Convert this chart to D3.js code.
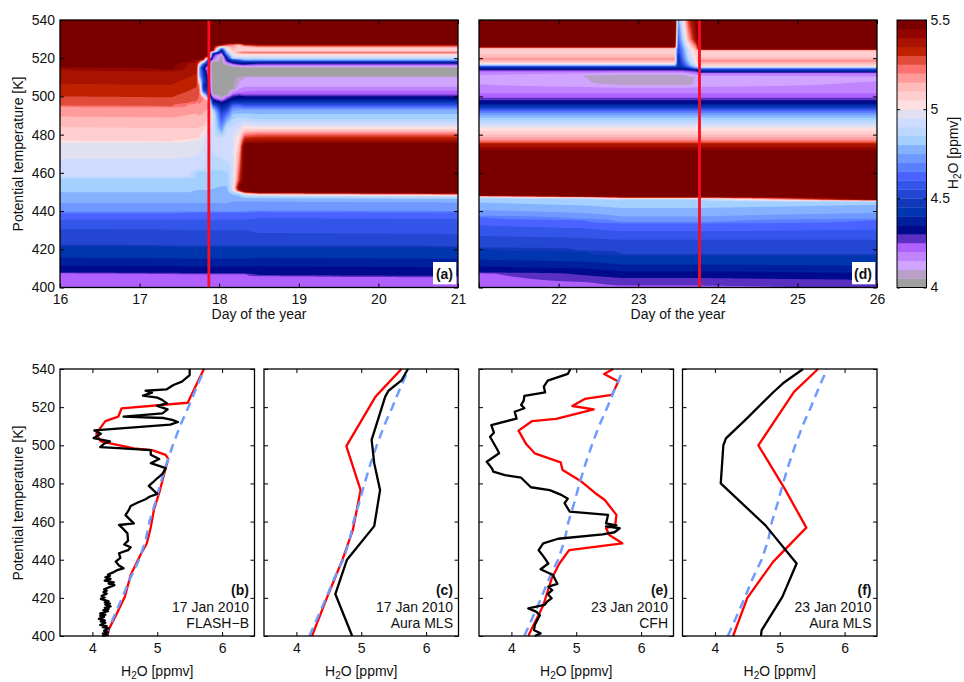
<!DOCTYPE html>
<html>
<head>
<meta charset="utf-8">
<script src="https://d3js.org/d3.v7.min.js"></script>
<style>
body { margin: 0; background: #fff; }
svg { display: block; }
text { font-family: "Liberation Sans", Arial, sans-serif; font-size: 14px; fill: #111; }
</style>
</head>
<body>
<svg width="964" height="682"></svg>
<script>
// colour levels, 4 to 5.5 ppmv in steps of 0.05
const levelColors = ['#a0a0a0','#b8a0c8','#d0a4ff','#c184ff','#b060ff','#5a30c0','#000a8c','#001f9f','#0035b0','#1038b8',
    '#2347d2','#3355ea','#4a62ff','#5a80ff','#7099ff','#85b2ff','#a4d0ff','#bcd8ff','#cfdcff','#e0e0f0',
    '#ffe0e0','#ffcfcf','#ffbaba','#ff9a9a','#ff7070','#e04b3a','#bf2000','#a81200','#940500','#7a0000'];
const levelBreaks = d3.range(30).map(i => 4 + i * 0.05);

// profiles of the model run [theta, h2o], panel (a)
const lowA = [[400,4.21],[407,4.24],[407.4,4.31],[411,4.35],[415,4.4],[421.3,4.45],[421.7,4.5],[430,4.55],[435.5,4.6],[439.3,4.65],[439.7,4.7]];
const a16 = [[400,4.21],[407.5,4.24],[407.9,4.31],[411.5,4.35],[415.5,4.4],[421.7,4.45],[422.1,4.5],[430.6,4.55],[435.5,4.6],[439.1,4.65],[439.5,4.7],[444.2,4.75],[449.8,4.8],[457.4,4.85],[457.8,4.9],[467.3,4.95],[476.2,5],[476.6,5.05],[484,5.1],[489.5,5.15],[494.8,5.2],[495.2,5.25],[500,5.3],[506.6,5.35],[514.6,5.4],[515,5.45],[540,5.7]];
const a174 = [[400,4.21],[407.2,4.24],[407.6,4.31],[411.2,4.35],[415.3,4.4],[421.5,4.45],[421.9,4.5],[430.3,4.55],[435.5,4.6],[439.1,4.65],[439.5,4.7],[444.2,4.75],[449.8,4.8],[457.4,4.85],[457.8,4.9],[467.3,4.95],[476,5],[476.4,5.05],[483.5,5.1],[489,5.15],[494.3,5.2],[494.7,5.25],[499.5,5.3],[506,5.35],[513.4,5.4],[513.8,5.45],[540,5.7]];
const a1762 = [...lowA,[444.2,4.75],[449.8,4.8],[457.4,4.85],[457.8,4.9],[468,4.95],[477,5],[477.4,5.05],[483.5,5.1],[490.5,5.15],[496,5.2],[496.4,5.25],[503,5.3],[510,5.35],[517.5,5.4],[518,5.45],[540,5.7]];
const a1772 = [...lowA,[444.2,4.75],[451,4.8],[461,4.85],[461.4,4.9],[469,4.95],[477.3,5],[477.7,5.05],[483.4,5.1],[491,5.15],[497,5.2],[497.4,5.25],[505,5.3],[512,5.35],[518.6,5.4],[519,5.45],[540,5.7]];
const a1775 = [...lowA,[444.2,4.75],[451,4.8],[461,4.85],[461.4,4.9],[470,4.95],[478,5],[478.4,5.05],[484,5.1],[490,5.15],[496,5.2],[499,5.24],[503,5.27],[506,5.2],[508,5],[511,4.78],[515,4.75],[516.5,4.95],[517.5,5.2],[519,5.42],[519.6,5.5],[540,5.7]];
const a178 = [...lowA,[444.2,4.75],[451,4.8],[461,4.85],[461.4,4.9],[470,4.93],[478,4.98],[484.5,5.1],[491,5.15],[496,5.18],[499,5.2],[500.5,5.05],[501.5,4.8],[503,4.55],[505,4.42],[508,4.55],[513,4.45],[515,4.35],[517,4.6],[518.3,5],[519.5,5.45],[540,5.7]];
const a1787 = [...lowA,[444.2,4.75],[451,4.8],[461.4,4.86],[470,4.88],[477,4.9],[482.5,4.96],[486,5.05],[491,5.1],[495,5.18],[497,5.18],[498,5.05],[499,4.85],[500,4.55],[502,4.42],[505,4.33],[512,4.18],[515,4.1],[517,4.28],[519,4.38],[520,4.8],[521,5.45],[540,5.7]];
const a1792 = [...lowA,[444.2,4.75],[451.5,4.8],[462,4.85],[470,4.9],[480,4.92],[488,4.95],[491,4.95],[493,4.85],[495,4.65],[496.5,4.42],[498,4.34],[499.3,4.25],[500.5,4.12],[501.5,4.03],[518,4.03],[519,4.2],[520.5,4.28],[522,4.33],[523,4.7],[524,5.45],[540,5.7]];
const a1803 = [...lowA,[444,4.75],[453,4.8],[461,4.85],[470,4.92],[478,4.92],[481,4.8],[484,4.7],[488,4.6],[492,4.5],[495,4.37],[496.8,4.32],[497.9,4.24],[499,4.1],[500,4.03],[521,4.03],[522,4.15],[523,4.25],[524,4.35],[525,4.6],[526,5],[527,5.45],[540,5.7]];
const a181 = [...lowA,[444,4.75],[453,4.8],[461,4.85],[470,4.94],[484,4.9],[489,4.72],[492,4.6],[495,4.43],[497,4.35],[498.5,4.3],[500,4.2],[501,4.03],[516.5,4.03],[517.5,4.2],[519,4.33],[520.5,4.45],[522,4.7],[524,4.95],[526,5.1],[527.2,5.3],[527.8,5.45],[540,5.7]];
const a1817 = [...lowA,[445,4.75],[448,4.78],[450,4.85],[451,4.95],[455,4.95],[462,4.92],[470,4.95],[480,4.95],[486,4.88],[491,4.8],[494,4.7],[496,4.55],[498,4.36],[500,4.3],[501.5,4.2],[503,4.12],[504,4.03],[515,4.03],[516,4.1],[517,4.25],[518,4.35],[519.5,4.6],[520,4.9],[522,5],[524,5.1],[527,5.2],[528,5.5],[540,5.7]];
const a1825 = [...lowA,[445,4.75],[448,4.8],[449.5,4.9],[450.5,5.3],[452,5.5],[456,5.3],[470,5.15],[478,5.04],[484,4.95],[489,4.85],[493,4.75],[495,4.65],[497,4.45],[498.5,4.35],[500.5,4.3],[502,4.2],[505,4.13],[509,4.08],[511,4.03],[515,4.03],[515.8,4.1],[516.5,4.25],[517.3,4.35],[518.5,4.45],[519.5,4.75],[520.5,4.95],[522,5.05],[523,5.2],[524,5.05],[527,5.1],[528,5.5],[540,5.7]];
const a1832 = [...lowA,[445,4.75],[447,4.8],[448.5,4.9],[449.5,5.2],[450.5,5.55],[474,5.55],[476,5.42],[479,5.27],[482,5.1],[485,4.98],[488,4.87],[493,4.76],[494.7,4.62],[496.4,4.5],[498.2,4.36],[500.2,4.3],[501.5,4.22],[505,4.15],[510,4.1],[511,4.03],[515,4.03],[516,4.2],[517,4.32],[518,4.4],[519,4.75],[520.5,4.95],[522,5.05],[523,5.25],[524,5.05],[526,5.1],[527.3,5.4],[527.8,5.5],[540,5.7]];
const upperA = [[488,4.85],[493,4.76],[494.7,4.62],[496.4,4.5],[498.2,4.36],[500.2,4.3],[501,4.25],[503,4.2],[505,4.15],[510,4.1],[511,4.03],[514.7,4.03],[515.6,4.1],[516.5,4.22],[517.5,4.33],[518,4.4],[519,4.75],[520.5,4.95],[522,5.05],[523,5.25],[524,5.05],[525.5,5.1],[527,5.4],[527.6,5.5],[540,5.7]];
const a19 = [[400,4.21],[406,4.24],[406.4,4.31],[411.1,4.35],[415.5,4.4],[421.4,4.45],[421.8,4.5],[428.5,4.55],[436.4,4.6],[439.7,4.65],[440.1,4.7],[445,4.75],[446.8,4.8],[448,4.9],[449,5.15],[449.8,5.5],[474.7,5.55],[475.5,5.45],[480,5.25],[483,5.05],[485,4.95],...upperA];
const a21 = [[400,4.2],[405.5,4.24],[405.9,4.31],[410.6,4.35],[415,4.4],[421,4.45],[421.4,4.5],[428,4.55],[436,4.6],[439.4,4.65],[439.8,4.7],[444.6,4.75],[446.4,4.8],[447.6,4.9],[448.6,5.15],[449.4,5.5],[474.7,5.55],[475.5,5.45],[480,5.25],[483,5.05],[485,4.95],...upperA];
const profileDaysA = [16,17.4,17.62,17.72,17.75,17.8,17.87,17.92,18.03,18.1,18.17,18.25,18.32,18.5,21];
const profilesA = [a16,a174,a1762,a1772,a1775,a178,a1787,a1792,a1803,a181,a1817,a1825,a1832,a19,a21];

// profiles of the model run, panel (d)
const lowD21 = [[400,4.2],[407.5,4.24],[407.9,4.31],[411,4.35],[414.5,4.4],[420.5,4.45],[420.9,4.5],[427,4.55],[432.5,4.6],[437,4.65],[437.3,4.7],[440.5,4.75],[444.5,4.8],[447,4.85],[447.5,5],[448,5.4],[448.5,5.55]];
const lowD22 = [[400,4.21],[403,4.25],[403.3,4.26],[406.5,4.3],[410,4.35],[413.5,4.4],[419,4.45],[419.3,4.5],[426,4.55],[431,4.6],[435.5,4.65],[435.8,4.7],[439,4.75],[443,4.8],[446.5,4.85],[447,5],[447.6,5.4],[448.2,5.55]];
const lowD23 = [[400,4.22],[401,4.25],[401.3,4.26],[405,4.3],[408.5,4.35],[412,4.4],[417,4.45],[417.3,4.5],[425,4.55],[429.4,4.6],[433.8,4.65],[434.1,4.7],[437.2,4.75],[441.6,4.8],[446,4.85],[446.5,4.98],[447.3,5.4],[447.8,5.55]];
const lowD26 = [[400,4.27],[404,4.3],[407.6,4.35],[411.4,4.4],[417,4.45],[417.3,4.5],[425,4.55],[430.3,4.6],[435.5,4.65],[435.8,4.7],[439,4.75],[443.3,4.8],[445,4.85],[445.3,5],[445.8,5.4],[446.3,5.55]];
const midD = [[471,5.6],[472,5.45],[475,5.35],[477,5.2],[480,5.1],[483,5.02],[485,4.95],[487,4.87],[490,4.76],[492,4.67],[493.5,4.55],[495,4.42],[496.3,4.34],[498,4.3],[499,4.26],[500,4.22],[504,4.17]];
const topD = [[513,4.2],[514,4.3],[514.8,4.36],[515.5,4.5],[516.3,4.8],[517,5],[518,5.1],[519,5.15],[519.5,5.22],[520,5.15],[522,5.1],[525,5.08],[525.6,5.3],[526,5.5],[540,5.7]];
const d21 = [...lowD21,...midD,[510,4.12],...topD];
const d225 = [...lowD22,...midD,[507,4.11],[511,4.1],...topD];
const d23 = [...lowD23,...midD,[506,4.1],[507,4.07],[510.5,4.07],[512,4.12],...topD];
const d235 = [...lowD23,...midD,[506,4.1],[507,4.07],[510.5,4.07],[512,4.12],[514,4.3],[514.8,4.36],[516,4.42],[520,4.38],[523,4.5],[530,4.6],[540,4.7]];
const d2356 = [...lowD23,...midD,[506,4.1],[507,4.07],[510.5,4.07],[512,4.12],[514,4.3],[514.8,4.36],[516,4.5],[520,4.65],[525,4.72],[530,4.85],[540,5]];
const d2363 = [...lowD23,...midD,[506,4.1],[507,4.07],[510,4.08],[512,4.15],[513.8,4.3],[514.6,4.4],[516,4.7],[519,4.85],[525,4.95],[530,5.15],[540,5.3]];
const d2372 = [...lowD23,...midD,[506,4.12],[510,4.1],[512,4.17],[513.5,4.3],[514,4.36],[515,4.75],[517,5],[524,5.1],[528,5.3],[530,5.4],[540,5.45]];
const topDR = [[512,4.2],[513,4.36],[514,4.45],[515,4.8],[515.6,5],[517,5.12],[518,5.15],[518.6,5.23],[519.2,5.15],[521,5.08],[524,5.08],[524.5,5.35],[525,5.5],[540,5.7]];
const d238 = [...lowD23,...midD,[506,4.13],[510,4.11],...topDR];
const d26 = [...lowD26,...midD,[510,4.14],...topDR];
const profileDaysD = [21,22.3,22.8,23.46,23.5,23.56,23.63,23.72,23.78,26];
const profilesD = [d21,d225,d23,d23,d235,d2356,d2363,d2372,d238,d26];

// balloon and satellite profiles [h2o, theta]
const aprioriLine = [[4.2,400],[4.33,410],[4.46,420],[4.58,430],[4.72,440],[4.82,450],[4.88,460],[4.97,470],[5.05,480],[5.14,490],[5.24,500],[5.35,510],[5.48,520],[5.6,530],[5.73,540]];
const redB = [[4.23,400],[4.26,404],[4.38,412],[4.5,420.6],[4.59,432],[4.74,442.5],[4.84,448.6],[4.9,457],[4.95,466.4],[5.03,475],[5.13,488],[5.17,492.8],[5.13,495],[4.92,497.5],[4.64,498.4],[4.31,500.8],[4.13,502],[4.06,506],[4.12,509],[4.2,512.7],[4.4,515],[4.45,519.4],[5.47,522.3],[5.72,540]];
const blackB = [[4.15,400],[4.23,400.6],[4.16,401.2],[4.24,402],[4.18,402.7],[4.25,404],[4.16,404.6],[4.22,405.2],[4.12,405.8],[4.2,407],[4.13,407.6],[4.19,408.2],[4.1,409],[4.18,410],[4.12,410.6],[4.2,411.2],[4.12,411.8],[4.24,413],[4.17,413.6],[4.25,414.2],[4.19,414.8],[4.28,415.5],[4.2,416.4],[4.27,417],[4.19,417.6],[4.25,418.2],[4.13,419.5],[4.19,420.2],[4.14,421],[4.22,422.2],[4.17,423],[4.22,423.8],[4.18,424.5],[4.34,426.7],[4.25,427.5],[4.33,428.1],[4.19,429],[4.28,430],[4.2,430.7],[4.27,431.5],[4.24,432.2],[4.31,433.2],[4.38,434.5],[4.48,435.5],[4.41,437],[4.36,439],[4.43,441],[4.41,443.4],[4.55,445],[4.59,446.5],[4.49,448],[4.55,450],[4.54,453.8],[4.48,456],[4.41,458.2],[4.64,459],[4.58,461],[4.51,463.4],[4.56,466],[4.59,468.2],[4.7,470],[4.82,471.7],[4.88,473],[5,474.5],[4.87,478.7],[4.93,480.5],[5,482.7],[5.08,485],[5.13,488],[4.9,490.6],[5.03,492.8],[4.9,495],[4.9,497.5],[4.4,498.5],[4.12,499],[4.18,500.8],[4.27,502],[4.02,503.8],[4.13,506],[4.03,507.8],[5.2,510.8],[5.32,512.2],[5.23,513.3],[5.1,514.3],[4.48,515],[5.08,516.7],[5.16,518.8],[5,520.7],[5.15,522],[5.08,523.7],[5,525],[4.78,526],[4.92,527.6],[4.82,528.6],[5.14,529.3],[5.25,531.6],[5.38,533.4],[5.5,536.8],[5.5,540]];
const redC = [[4.24,400],[4.47,420],[4.71,440],[4.87,455.5],[4.99,476.5],[4.77,499.6],[5.22,525.5],[5.62,540]];
const blackC = [[4.86,400],[4.6,422],[4.78,440],[5.2,457.6],[5.29,476.5],[5.2,490.6],[5.16,502.8],[5.37,525.5],[5.42,528.6],[5.62,534],[5.72,540]];
const redE = [[4.26,400],[4.49,416],[4.62,430],[4.74,438],[4.89,445],[5.71,448.6],[5.51,453],[5.46,456.5],[5.6,458],[5.62,463.5],[5.44,471.3],[5.29,475],[5.08,481],[4.79,487],[4.76,491],[4.36,495.8],[4.23,500.5],[4.11,507.7],[4.32,512.7],[4.69,513.8],[5.27,518.8],[4.94,520.6],[5.13,524.3],[5.55,526.4],[5.65,533.4],[5.43,537.4],[5.57,540]];
const blackE = [[4.36,400],[4.45,401.4],[4.35,403],[4.36,405.8],[4.44,411],[4.38,412.8],[4.26,414.5],[4.51,416.3],[4.55,418],[4.62,419.8],[4.56,422],[4.63,424],[4.57,425.9],[4.71,427.3],[4.64,432],[4.45,435],[4.57,438],[4.5,441.5],[4.42,445],[4.49,448.6],[4.72,451],[5.41,453.3],[5.59,454.4],[5.67,456.5],[5.46,457.5],[5.62,458],[5.46,459],[5.49,463.5],[4.9,465.2],[4.82,469.6],[4.87,472],[4.77,474],[4.59,476.5],[4.3,478],[4.15,483],[3.9,484.4],[3.72,486.2],[3.7,487.9],[3.62,491.4],[3.81,495.8],[3.78,497.9],[3.67,504.5],[3.73,506.6],[3.69,510.6],[4.08,514],[4.05,517.6],[4.2,519.4],[4.15,521.2],[4.19,523.4],[4.2,525.9],[4.52,527.8],[4.5,530.7],[4.56,533.9],[4.87,537.4],[4.91,540]];
const redF = [[4.28,400],[4.5,420],[4.9,439],[5.41,456.8],[5.08,477],[4.67,500],[5.22,528],[5.59,540]];
const blackF = [[4.71,400],[4.72,403],[5.04,420.5],[5.26,438],[4.78,458],[4.09,480],[4.13,500],[4.17,503.6],[4.49,514],[4.9,527.8],[5.05,532.5],[5.36,540]];

const thetaTicks = d3.range(400, 541, 20);
const h2oTicks = [4, 5, 6];
const cbarTicks = [4, 4.5, 5, 5.5];

const svg = d3.select('svg');
const y1 = d3.scaleLinear().domain([400, 540]).range([287.5, 20]);
const y2 = d3.scaleLinear().domain([400, 540]).range([636, 369]);

// fill one model panel with contour bands of the profiles
function drawField(days, profiles, x) {
    const w = Math.round(x.range()[1] - x.range()[0]);
    const h = Math.round(y1.range()[0] - y1.range()[1]);
    const rows = d3.range(h).map(j => y1.invert(y1.range()[1] + j + 0.5));
    const cols = profiles.map(p => {
        const s = d3.scaleLinear().domain(p.map(d => d[0])).range(p.map(d => d[1]));
        return rows.map(s);
    });
    const values = new Float64Array(w * h);
    for (let i = 0; i < w; i++) {
        const day = x.invert(x.range()[0] + i + 0.5);
        const k = Math.min(d3.bisectRight(days, day), days.length - 1);
        const f = Math.max(0, Math.min(1, (day - days[k - 1]) / (days[k] - days[k - 1])));
        for (let j = 0; j < h; j++) {
            values[j * w + i] = cols[k - 1][j] * (1 - f) + cols[k][j] * f;
        }
    }
    const g = svg.append('g').attr('transform', `translate(${x.range()[0]},${y1.range()[1]})`);
    g.append('rect').attr('width', w).attr('height', h).attr('fill', levelColors[0]);
    const bands = d3.contours().size([w, h]).thresholds(levelBreaks.slice(1))(values);
    g.selectAll('path').data(bands).join('path')
        .attr('d', d3.geoPath())
        .attr('fill', (d, i) => levelColors[i + 1]);
}

// frame with ticks pointing inward on all four sides
function drawFrame(x, y, xTicks, xFormat, showY) {
    const x0 = x.range()[0], x1 = x.range()[1], yb = y.range()[0], yt = y.range()[1];
    const g = svg.append('g');
    g.append('g').attr('transform', `translate(0,${yb})`)
        .call(d3.axisBottom(x).tickValues(xTicks).tickSize(-4).tickPadding(7).tickFormat(xFormat));
    g.append('g').attr('transform', `translate(0,${yt})`)
        .call(d3.axisTop(x).tickValues(xTicks).tickSize(-4).tickFormat(''));
    g.append('g').attr('transform', `translate(${x0},0)`)
        .call(d3.axisLeft(y).tickValues(thetaTicks).tickSize(-4).tickPadding(5).tickFormat(showY ? d3.format('d') : ''));
    g.append('g').attr('transform', `translate(${x1},0)`)
        .call(d3.axisRight(y).tickValues(thetaTicks).tickSize(-4).tickFormat(''));
    g.selectAll('.domain').remove();
    g.selectAll('line').attr('stroke', '#000').attr('stroke-width', 1);
    g.selectAll('g').attr('font-size', null).attr('font-family', null);
    g.append('rect').attr('x', x0).attr('y', yt).attr('width', x1 - x0).attr('height', yb - yt)
        .attr('fill', 'none').attr('stroke', '#000').attr('stroke-width', 1.3);
}

function addH2oLabel(sel) {
    sel.append('tspan').text('H');
    sel.append('tspan').attr('dy', 3).style('font-size', '10px').text('2');
    sel.append('tspan').attr('dy', -3).text('O [ppmv]');
}

// top row
const xA = d3.scaleLinear().domain([16, 21]).range([60, 458]);
const xD = d3.scaleLinear().domain([21, 26]).range([479, 877]);
drawField(profileDaysA, profilesA, xA);
drawField(profileDaysD, profilesD, xD);

[[xA, 17.87], [xD, 23.77]].forEach(([x, day]) => {
    svg.append('line').attr('x1', x(day)).attr('x2', x(day))
        .attr('y1', y1.range()[1]).attr('y2', y1.range()[0])
        .attr('stroke', '#ff0a1e').attr('stroke-width', 2.8);
});

drawFrame(xA, y1, d3.range(16, 22), d3.format('d'), true);
drawFrame(xD, y1, d3.range(21, 27), d => d === 21 ? '' : d, false);

[[xA, '(a)'], [xD, '(d)']].forEach(([x, label]) => {
    const xr = x.range()[1];
    svg.append('rect').attr('x', xr - 25).attr('y', 262).attr('width', 23.3).attr('height', 22.3).attr('fill', '#fff');
    svg.append('text').attr('x', xr - 5).attr('y', 278.5).attr('text-anchor', 'end')
        .attr('font-weight', 'bold').text(label);
    svg.append('text').attr('x', (x.range()[0] + xr) / 2).attr('y', 319).attr('text-anchor', 'middle').text('Day of the year');
});

// colour bar
const yCbar = d3.scaleLinear().domain([4, 5.5]).range([287.5, 20]);
const cbar = svg.append('g');
cbar.selectAll('rect').data(levelBreaks).join('rect')
    .attr('x', 897).attr('width', 29.5)
    .attr('y', d => yCbar(d + 0.05))
    .attr('height', d => yCbar(d) - yCbar(d + 0.05) + 0.3)
    .attr('fill', (d, i) => levelColors[i]);
cbar.append('rect').attr('x', 897).attr('y', 20).attr('width', 29.5).attr('height', 267.5)
    .attr('fill', 'none').attr('stroke', '#000').attr('stroke-width', 1);
const cbarAxis = svg.append('g').attr('transform', 'translate(926.5,0)')
    .call(d3.axisRight(yCbar).tickValues(cbarTicks).tickSize(-3).tickPadding(4).tickFormat(d3.format('')));
cbarAxis.select('.domain').remove();
cbarAxis.attr('font-size', null).attr('font-family', null);
svg.append('g').attr('transform', 'translate(897,0)')
    .call(d3.axisRight(yCbar).tickValues(cbarTicks).tickSize(3).tickFormat(''))
    .select('.domain').remove();
svg.append('text').attr('transform', 'translate(958,153) rotate(-90)').attr('text-anchor', 'middle').call(addH2oLabel);

svg.append('text').attr('transform', 'translate(23,154) rotate(-90)').attr('text-anchor', 'middle').text('Potential temperature [K]');
svg.append('text').attr('transform', 'translate(23,503) rotate(-90)').attr('text-anchor', 'middle').text('Potential temperature [K]');

// bottom row
const lowerPanels = [
    { left: 60, red: redB, black: blackB, id: '(b)', date: '17 Jan 2010', src: 'FLASH\u2212B', showY: true },
    { left: 264, red: redC, black: blackC, id: '(c)', date: '17 Jan 2010', src: 'Aura MLS', showY: false },
    { left: 479, red: redE, black: blackE, id: '(e)', date: '23 Jan 2010', src: 'CFH', showY: false },
    { left: 682.5, red: redF, black: blackF, id: '(f)', date: '23 Jan 2010', src: 'Aura MLS', showY: false }
];
lowerPanels.forEach(p => {
    const x = d3.scaleLinear().domain([3.5, 6.5]).range([p.left, p.left + 194.5]);
    const line = d3.line().x(d => x(d[0])).y(d => y2(d[1]));
    svg.append('path').datum(p.red).attr('d', line)
        .attr('fill', 'none').attr('stroke', '#f00').attr('stroke-width', 2.3).attr('stroke-linejoin', 'round');
    svg.append('path').datum(aprioriLine).attr('d', line)
        .attr('fill', 'none').attr('stroke', '#6f9bff').attr('stroke-width', 2.5).attr('stroke-dasharray', '9,6');
    svg.append('path').datum(p.black).attr('d', line)
        .attr('fill', 'none').attr('stroke', '#000').attr('stroke-width', 2.3).attr('stroke-linejoin', 'round');
    drawFrame(x, y2, h2oTicks, d3.format('d'), p.showY);
    const xr = x.range()[1] - 5.5;
    svg.append('text').attr('x', xr).attr('y', 595).attr('text-anchor', 'end').attr('font-weight', 'bold').text(p.id);
    svg.append('text').attr('x', xr).attr('y', 612).attr('text-anchor', 'end').text(p.date);
    svg.append('text').attr('x', xr).attr('y', 628).attr('text-anchor', 'end').text(p.src);
    svg.append('text').attr('x', (x.range()[0] + x.range()[1]) / 2).attr('y', 676).attr('text-anchor', 'middle').call(addH2oLabel);
});
</script>
</body>
</html>
